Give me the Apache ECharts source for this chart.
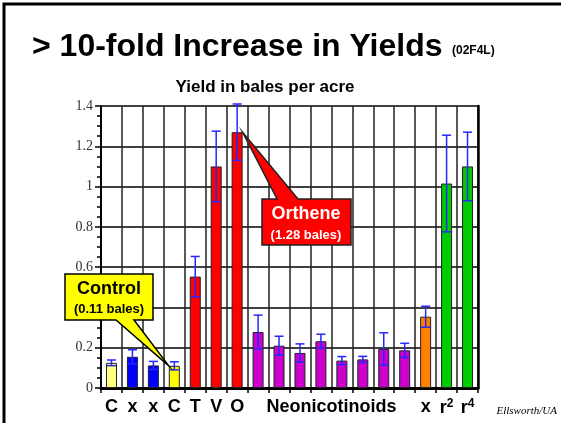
<!DOCTYPE html>
<html>
<head>
<meta charset="utf-8">
<script src="https://cdn.jsdelivr.net/npm/echarts@6/dist/echarts.min.js"></script>
<style>
  html, body { margin: 0; padding: 0; background: #fff; }
  #main { width: 561px; height: 423px; }
</style>
</head>
<body>
<div id="main"></div>
<script>
// treatments, left to right
var treatments = ['C1', 'x1', 'x2', 'C2', 'T', 'V', 'O',
  'N1', 'N2', 'N3', 'N4', 'N5', 'N6', 'N7', 'N8', 'x3', 'r2', 'r4'];
var tickLabels = ['C', 'x', 'x', 'C', 'T', 'V', 'O',
  '', '', '', '{neo|Neonicotinoids}', '', '', '', '', 'x', 'r{sup|2}', 'r{sup|4}'];
// yield in bales per acre and the error bar half-length
var yields = [0.125, 0.155, 0.112, 0.11, 0.553, 1.10, 1.27,
  0.278, 0.21, 0.174, 0.232, 0.136, 0.142, 0.194, 0.187,
  0.354, 1.015, 1.10];
var errors = [0.014, 0.035, 0.02, 0.02, 0.1, 0.175, 0.14,
  0.084, 0.047, 0.045, 0.035, 0.02, 0.015, 0.08, 0.035,
  0.052, 0.24, 0.17];

var barColors = ['#ffff80', '#0000ff', '#0000ff', '#ffff00', '#ff0000', '#ff0000', '#ff0000',
  '#cc00cc', '#cc00cc', '#cc00cc', '#cc00cc', '#cc00cc', '#cc00cc', '#cc00cc', '#cc00cc',
  '#ff8000', '#00cc00', '#00cc00'];

var BAR_W = 11;
var chart = echarts.init(document.getElementById('main'));

var barData = yields.map(function (v, i) {
  return { value: v, itemStyle: { color: barColors[i] } };
});
var errData = yields.map(function (v, i) { return [i, v, errors[i]]; });

function renderErr(params, api) {
  var i = api.value(0), v = api.value(1), e = api.value(2);
  var hi = api.coord([i, v + e]);
  var lo = api.coord([i, v - e]);
  var w = 4.5;
  var st = { stroke: '#2626ff', lineWidth: 1.5 };
  return {
    type: 'group',
    children: [
      { type: 'line', shape: { x1: hi[0], y1: hi[1], x2: lo[0], y2: lo[1] }, style: st },
      { type: 'line', shape: { x1: hi[0] - w, y1: hi[1], x2: hi[0] + w, y2: hi[1] }, style: st },
      { type: 'line', shape: { x1: lo[0] - w, y1: lo[1], x2: lo[0] + w, y2: lo[1] }, style: st }
    ]
  };
}

chart.setOption({
  animation: false,
  backgroundColor: '#fff',
  grid: { left: 101, right: 83, top: 106, bottom: 35 },
  xAxis: [{
    type: 'category',
    data: treatments,
    boundaryGap: true,
    axisLine: { lineStyle: { color: '#000', width: 2.5 } },
    axisTick: { show: true, length: 5, inside: false, interval: 0, lineStyle: { color: '#000', width: 1.5 } },
    splitLine: { show: true, interval: 0, lineStyle: { color: '#222', width: 1.5 } },
    axisLabel: {
      interval: 0,
      margin: 10,
      color: '#000',
      fontFamily: 'Liberation Sans',
      fontWeight: 'bold',
      fontSize: 18,
      formatter: function (val, idx) { return tickLabels[idx]; },
      rich: {
        neo: { fontFamily: 'Liberation Sans', fontWeight: 'bold', fontSize: 18, color: '#000', padding: [0, 0, 0, 21] },
        sup: { fontFamily: 'Liberation Sans', fontWeight: 'bold', fontSize: 12, color: '#000', padding: [0, 0, 8, 0] }
      }
    }
  }, {
    type: 'category',
    data: treatments,
    position: 'top',
    axisLine: { lineStyle: { color: '#000', width: 3 } },
    axisTick: { show: false },
    axisLabel: { show: false },
    splitLine: { show: false }
  }],
  yAxis: [{
    type: 'value',
    min: 0,
    max: 1.4,
    interval: 0.2,
    axisLine: { show: true, lineStyle: { color: '#000', width: 2 } },
    axisTick: { show: true, length: 6, lineStyle: { color: '#000', width: 1.5 } },
    minorTick: { show: true, splitNumber: 4, length: 4, lineStyle: { color: '#000', width: 1.5 } },
    splitLine: { show: true, lineStyle: { color: '#000', width: 1.5 } },
    axisLabel: { color: '#333', fontFamily: 'Liberation Serif', fontSize: 14, margin: 8 }
  }, {
    type: 'value',
    min: 0,
    max: 1.4,
    position: 'right',
    axisLine: { show: true, lineStyle: { color: '#000', width: 2.5 } },
    axisTick: { show: false },
    axisLabel: { show: false },
    splitLine: { show: false }
  }],
  series: [{
    type: 'bar',
    data: barData,
    barWidth: BAR_W,
    itemStyle: { borderColor: '#222', borderWidth: 1 },
    z: 3
  }, {
    type: 'custom',
    data: errData,
    renderItem: renderErr,
    z: 4
  }]
});

// callout tips anchored to the bar tops
var ctl = chart.convertToPixel({ seriesIndex: 0 }, [3, yields[3]]);
var orth = chart.convertToPixel({ seriesIndex: 0 }, [6, yields[6]]);
var ctlTip = [ctl[0] - BAR_W / 2, ctl[1]];
var orthTip = [orth[0] + BAR_W / 2, orth[1]];

chart.setOption({
  graphic: [
    {
      type: 'polyline', z: 100,
      shape: { points: [[4, 423], [4, 4], [561, 4]] },
      style: { stroke: '#000', lineWidth: 3, fill: null }
    },
    {
      type: 'text', z: 100, x: 32, y: 47,
      style: { text: '> 10-fold Increase in Yields', font: 'bold 32px "Liberation Sans"', fill: '#000', verticalAlign: 'middle' }
    },
    {
      type: 'text', z: 100, x: 452, y: 51,
      style: { text: '(02F4L)', font: 'bold 12px "Liberation Sans"', fill: '#000', verticalAlign: 'middle' }
    },
    {
      type: 'text', z: 100, x: 265, y: 87,
      style: { text: 'Yield in bales per acre', font: 'bold 17px "Liberation Sans"', fill: '#000', align: 'center', verticalAlign: 'middle' }
    },
    {
      type: 'text', z: 100, x: 557, y: 411,
      style: { text: 'Ellsworth/UA', font: 'italic 11px "Liberation Serif"', fill: '#000', align: 'right', verticalAlign: 'middle' }
    },
    {
      type: 'polygon', z: 100,
      shape: { points: [[65, 274], [153, 274], [153, 320], [134, 320], ctlTip, [116, 320], [65, 320]] },
      style: { fill: '#ffff00', stroke: '#000', lineWidth: 1.5 }
    },
    {
      type: 'text', z: 101, x: 109, y: 289,
      style: { text: 'Control', font: 'bold 18px "Liberation Sans"', fill: '#000', align: 'center', verticalAlign: 'middle' }
    },
    {
      type: 'text', z: 101, x: 109, y: 309,
      style: { text: '(0.11 bales)', font: 'bold 13px "Liberation Sans"', fill: '#000', align: 'center', verticalAlign: 'middle' }
    },
    {
      type: 'polygon', z: 100,
      shape: { points: [[262, 199], [277, 199], orthTip, [298, 199], [351, 199], [351, 245], [262, 245]] },
      style: { fill: '#ff0000', stroke: '#222', lineWidth: 1.5 }
    },
    {
      type: 'text', z: 101, x: 306, y: 214,
      style: { text: 'Orthene', font: 'bold 18px "Liberation Sans"', fill: '#fff', align: 'center', verticalAlign: 'middle' }
    },
    {
      type: 'text', z: 101, x: 306, y: 235,
      style: { text: '(1.28 bales)', font: 'bold 13px "Liberation Sans"', fill: '#fff', align: 'center', verticalAlign: 'middle' }
    }
  ]
});
</script>
</body>
</html>
